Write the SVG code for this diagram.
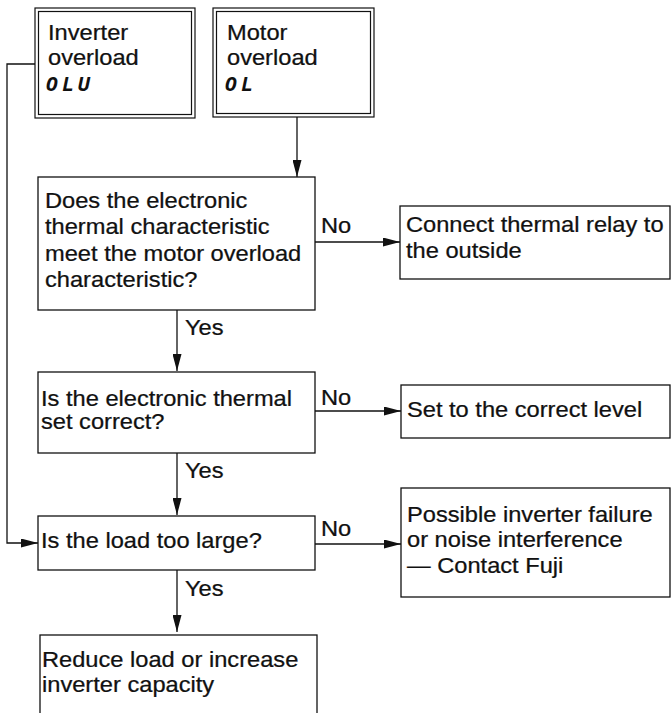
<svg xmlns="http://www.w3.org/2000/svg" width="671" height="713" viewBox="0 0 671 713">
<style>
.box{fill:#fff;stroke:#111;stroke-width:1.3}
.dbl{fill:none;stroke:#111;stroke-width:1.2}
.t{font-family:"Liberation Sans",Arial,sans-serif;font-size:21.5px;fill:#111;stroke:#111;stroke-width:0.25}
.seg{font-family:"DejaVu Sans Mono",monospace;font-size:20px;font-weight:bold;font-style:oblique;fill:#111;letter-spacing:4px}
.c{fill:none;stroke:#111;stroke-width:1.3}
</style>
<defs>
<marker id="arr" viewBox="0 0 17 9" refX="17" refY="4.5" markerWidth="17" markerHeight="9" orient="auto" markerUnits="userSpaceOnUse">
<path d="M0,0 L17,4.5 L0,9 z" fill="#111"/>
</marker>
</defs>
<rect width="671" height="713" fill="#fff"/>
<g id="connectors">
<path class="c" d="M297,117 V177" marker-end="url(#arr)"/>
<path class="c" d="M35,64 H7 V543 H38" marker-end="url(#arr)"/>
<path class="c" d="M315,242 H400" marker-end="url(#arr)"/>
<path class="c" d="M177,310 V371" marker-end="url(#arr)"/>
<path class="c" d="M315,411 H401" marker-end="url(#arr)"/>
<path class="c" d="M177,453 V515" marker-end="url(#arr)"/>
<path class="c" d="M315,544 H401" marker-end="url(#arr)"/>
<path class="c" d="M177,570 V632" marker-end="url(#arr)"/>
<text class="t" transform="translate(321,233) scale(1.1,1)">No</text>
<text class="t" transform="translate(321,405) scale(1.1,1)">No</text>
<text class="t" transform="translate(321,536) scale(1.1,1)">No</text>
<text class="t" transform="translate(185,335) scale(1.1,1)">Yes</text>
<text class="t" transform="translate(185,478) scale(1.1,1)">Yes</text>
<text class="t" transform="translate(185,596) scale(1.1,1)">Yes</text>
</g>
<g id="inverter-overload">
<rect class="dbl" x="35" y="8" width="160" height="110"/>
<rect class="dbl" x="38.5" y="11.5" width="153" height="103"/>
<text class="t" transform="translate(48,40) scale(1.1,1)"><tspan x="0" y="0">Inverter</tspan><tspan x="0" y="25.5">overload</tspan></text>
<text class="seg" x="46" y="91">OLU</text>
</g>
<g id="motor-overload">
<rect class="dbl" x="213" y="8" width="161" height="109"/>
<rect class="dbl" x="216.5" y="11.5" width="154" height="102"/>
<text class="t" transform="translate(227,40) scale(1.1,1)"><tspan x="0" y="0">Motor</tspan><tspan x="0" y="25.5">overload</tspan></text>
<text class="seg" x="225" y="91">OL</text>
</g>
<g id="q1">
<rect class="box" x="38" y="177" width="277" height="133"/>
<text class="t" transform="translate(45,208) scale(1.1,1)"><tspan x="0" y="0">Does the electronic</tspan><tspan x="0" y="26.5">thermal characteristic</tspan><tspan x="0" y="53">meet the motor overload</tspan><tspan x="0" y="79.5">characteristic?</tspan></text>
</g>
<g id="a1">
<rect class="box" x="400" y="206" width="270" height="73"/>
<text class="t" transform="translate(406,232) scale(1.1,1)"><tspan x="0" y="0">Connect thermal relay to</tspan><tspan x="0" y="26">the outside</tspan></text>
</g>
<g id="q2">
<rect class="box" x="38" y="372" width="277" height="81"/>
<text class="t" transform="translate(41,406) scale(1.1,1)"><tspan x="0" y="0">Is the electronic thermal</tspan><tspan x="0" y="23">set correct?</tspan></text>
</g>
<g id="a2">
<rect class="box" x="401" y="385" width="269" height="53"/>
<text class="t" transform="translate(407,417) scale(1.1,1)">Set to the correct level</text>
</g>
<g id="q3">
<rect class="box" x="38" y="516" width="277" height="54"/>
<text class="t" transform="translate(41,548) scale(1.1,1)">Is the load too large?</text>
</g>
<g id="a3">
<rect class="box" x="401" y="488" width="269" height="109"/>
<text class="t" transform="translate(407,522) scale(1.1,1)"><tspan x="0" y="0">Possible inverter failure</tspan><tspan x="0" y="25.5">or noise interference</tspan><tspan x="0" y="51">— Contact Fuji</tspan></text>
</g>
<g id="a4">
<rect class="box" x="40" y="635" width="277" height="90"/>
<text class="t" transform="translate(42,667) scale(1.1,1)"><tspan x="0" y="0">Reduce load or increase</tspan><tspan x="0" y="25">inverter capacity</tspan></text>
</g>
</svg>
